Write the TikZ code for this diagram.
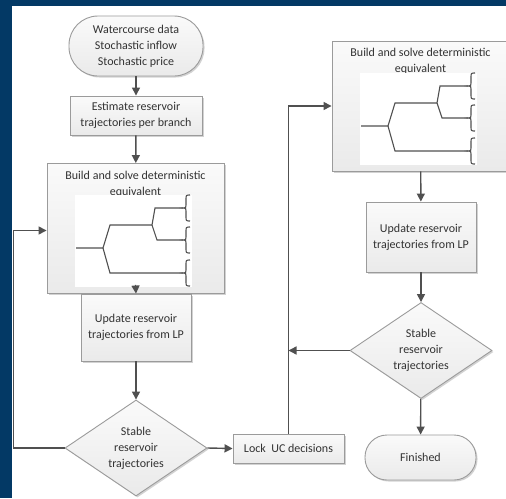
\documentclass[tikz,border=0pt]{standalone}
\usepackage{fontspec}
\setmainfont{Carlito}
\usetikzlibrary{arrows.meta,shapes.geometric,shadows}
\definecolor{bgblue}{RGB}{3,57,101}
\definecolor{edgegray}{RGB}{155,155,155}
\definecolor{linegray}{RGB}{80,80,80}
\definecolor{filltop}{RGB}{250,250,250}
\definecolor{fillbot}{RGB}{234,234,234}
\definecolor{txtgray}{RGB}{50,50,50}

\begin{document}
\begin{tikzpicture}[x=1pt,y=-1pt,
        every node/.style={font=\fontsize{12}{16}\selectfont,text=txtgray,align=center,inner sep=0pt},
        flowbox/.style={draw=edgegray,line width=0.9pt,top color=filltop,bottom color=fillbot,
            drop shadow={shadow xshift=1.5pt,shadow yshift=-1.5pt,fill=gray!70,opacity=0.5}},
        procbox/.style={flowbox,rectangle},
        decbox/.style={flowbox,diamond,aspect=1.48},
        arr/.style={draw=linegray,line width=1.4pt,-{Triangle[length=8pt,width=8pt]}},
        twig/.style={draw=linegray,line width=1.1pt}]
        \useasboundingbox (0,0) rectangle (506,498);
        \clip (0,0) rectangle (506,498);
        \fill[bgblue] (0,0) rectangle (506,498);
        \fill[white] (12,6) rectangle (512,504);

        % left column
        \node[procbox,minimum width=134pt,minimum height=60pt,rounded corners=29pt] (start) at (136,46) {Watercourse data\\Stochastic inflow\\Stochastic price};
        \node[procbox,minimum width=132pt,minimum height=39pt] (est) at (136,115.5) {Estimate reservoir\\trajectories per branch};
        \node[procbox,minimum width=177pt,minimum height=130pt] (build1) at (135.5,228.5) {};
        \node[anchor=north] (title1) at ([yshift=-7.5pt]build1.north) {Build and solve deterministic\\equivalent};
        \node[procbox,minimum width=110pt,minimum height=67pt] (upd1) at (136,327.5) {Update reservoir\\trajectories from LP};
        \node[decbox,minimum width=142pt,minimum height=96pt] (dec1) at (136,448) {Stable\\reservoir\\trajectories};
        \node[procbox,minimum width=111pt,minimum height=29pt] (lock) at (288.5,448.5) {Lock\ \ UC decisions};

        % right column
        \node[procbox,minimum width=177pt,minimum height=130pt] (build2) at (420.5,106) {};
        \node[anchor=north] (title2) at ([yshift=-7.5pt]build2.north) {Build and solve deterministic\\equivalent};
        \node[procbox,minimum width=110pt,minimum height=70pt] (upd2) at (421,237) {Update reservoir\\trajectories from LP};
        \node[decbox,minimum width=142pt,minimum height=96pt] (dec2) at (421,350.5) {Stable\\reservoir\\trajectories};
        \node[procbox,minimum width=111pt,minimum height=45pt,rounded corners=22pt] (finish) at (420.5,457.5) {Finished};

        % scenario trees
        \foreach \sx/\sy in {75/195,360/73} {
            \begin{scope}[shift={(\sx,\sy)}]
                \fill[white] (0,0) rectangle (117,92);
                \draw[twig] (1,53) -- (28,53) -- (35,30) -- (77,30) -- (80,13) -- (108,13);
                \draw[twig] (28,53) -- (35,78) -- (108,78);
                \draw[twig] (77,30) -- (82,45) -- (108,45);
                \foreach \m in {13,45,78}
                    \draw[twig] (115,\m-13) .. controls (111,\m-13) .. (111,\m-8) -- (111,\m-3)
                        .. controls (111,\m) .. (108,\m) .. controls (111,\m) .. (111,\m+3)
                        -- (111,\m+8) .. controls (111,\m+13) .. (115,\m+13);
            \end{scope}
        }

        \draw[arr] (start) -- (est);
        \draw[arr] (est) -- (build1);
        \draw[arr] ([yshift=9pt]build1.south) -- (upd1.north);
        \draw[arr] (upd1) -- (dec1);
        \draw[arr] (dec1.west) -- ++(-51,0) |- ([yshift=-2pt]build1.west);
        \draw[arr] (dec1.east) -- (lock.west);
        \draw[arr] (lock.north) |- (build2.west);
        \draw[arr] (build2) -- (upd2);
        \draw[arr] (upd2) -- (dec2);
        \draw[arr] (dec2.west) -- (dec2.west -| lock.north);
        \draw[arr] (dec2) -- (finish);
    \end{tikzpicture}
\end{document}
